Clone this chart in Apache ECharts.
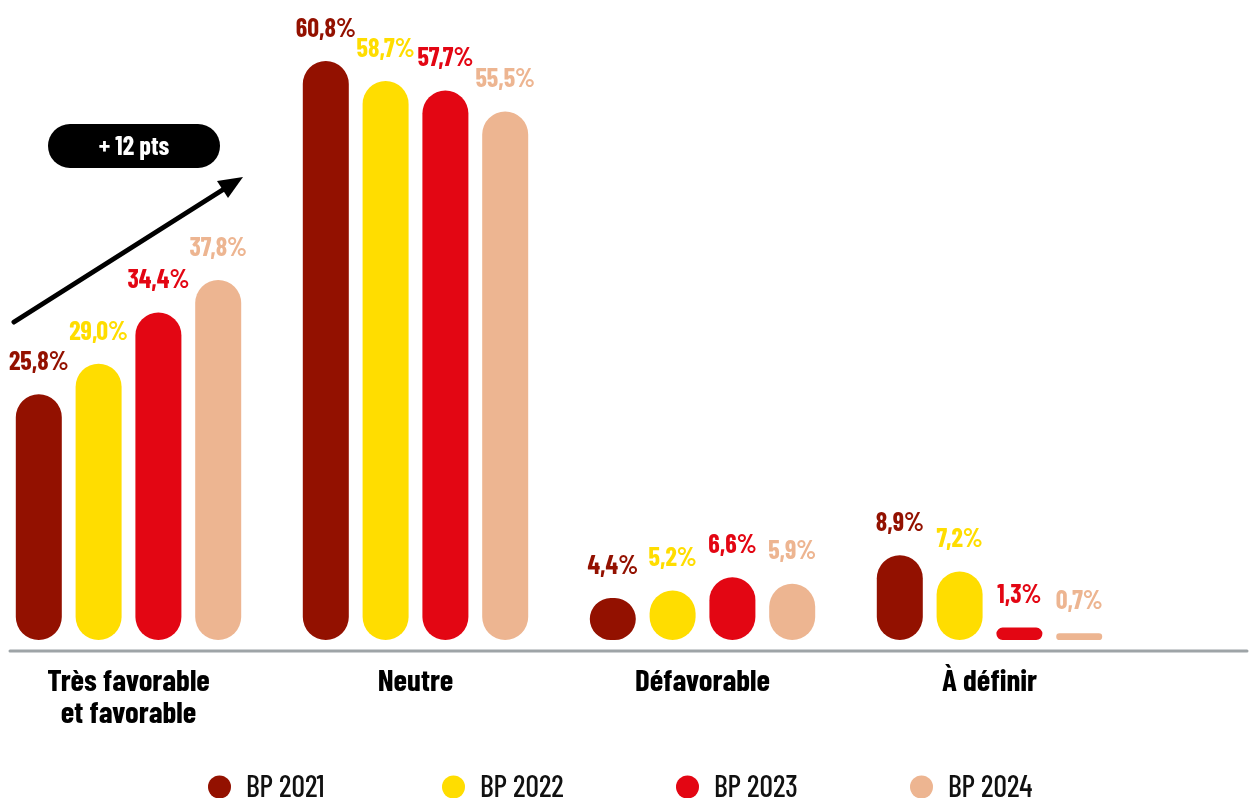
<!DOCTYPE html>
<html>
<head>
<meta charset="utf-8">
<script src="https://cdn.jsdelivr.net/npm/echarts@6/dist/echarts.min.js"></script>
<style>
  html, body { margin: 0; padding: 0; background: #fff; }
  #main { width: 1255px; height: 798px; }
</style>
</head>
<body>
<div id="main"></div>
<script>
// categories et valeurs (%)
var categories = ['Très favorable\net favorable', 'Neutre', 'Défavorable', 'À définir'];
var seriesNames = ['BP 2021', 'BP 2022', 'BP 2023', 'BP 2024'];
var bp2021 = [25.8, 60.8, 4.4, 8.9];
var bp2022 = [29.0, 58.7, 5.2, 7.2];
var bp2023 = [34.4, 57.7, 6.6, 1.3];
var bp2024 = [37.8, 55.5, 5.9, 0.7];
var colors = ['#931100', '#FFDD00', '#E30613', '#EDB591'];

var font = "'Barlow Condensed', 'Roboto Condensed', 'DejaVu Sans Condensed', sans-serif";

function makeSerie(name, data, color) {
    return {
        name: name,
        type: 'bar',
        data: data,
        barWidth: 46,
        barGap: '30%',
        itemStyle: { color: color, borderRadius: 23 },
        label: {
            show: true,
            position: 'top',
            distance: 20,
            color: color,
            fontFamily: font,
            fontWeight: 'bold',
            fontSize: 26,
            formatter: function (p) {
                return p.value.toFixed(1).replace('.', ',') + '%';
            }
        }
    };
}

var myChart = echarts.init(document.getElementById('main'));

var option = {
    animation: false,
    backgroundColor: '#fff',
    grid: { left: -15, right: 122, top: 21, bottom: 158, outerBoundsMode: 'none' },
    legend: {
        data: seriesNames,
        left: 203,
        top: 767,
        icon: 'circle',
        itemWidth: 23,
        itemHeight: 23,
        itemGap: 110,
        textStyle: {
            fontFamily: font, fontSize: 30, fontWeight: 500, color: '#111',
            lineHeight: 30, width: 86, padding: [0, 0, 0, 10]
        }
    },
    xAxis: {
        type: 'category',
        data: categories,
        axisLine: { show: false },
        axisTick: { show: false },
        axisLabel: {
            margin: 25,
            fontFamily: font,
            fontWeight: 'bold',
            fontSize: 31,
            lineHeight: 32,
            color: '#000'
        }
    },
    yAxis: {
        type: 'value',
        min: 0,
        max: 65,
        show: false,
        splitLine: { show: false }
    },
    series: [
        makeSerie(seriesNames[0], bp2021, colors[0]),
        makeSerie(seriesNames[1], bp2022, colors[1]),
        makeSerie(seriesNames[2], bp2023, colors[2]),
        makeSerie(seriesNames[3], bp2024, colors[3])
    ],
    graphic: [
        // ligne de base
        {
            type: 'line', shape: { x1: 10, y1: 651, x2: 1247, y2: 651 },
            style: { stroke: '#9ea4a7', lineWidth: 3, lineCap: 'round' }, z: 1
        },
        // flèche
        {
            type: 'line', shape: { x1: 14, y1: 322, x2: 224, y2: 189 },
            style: { stroke: '#000', lineWidth: 5, lineCap: 'round' }
        },
        {
            type: 'polygon',
            shape: { points: [[243, 177], [228, 198], [217, 181]] },
            style: { fill: '#000' }
        },
        // pastille
        {
            type: 'rect', shape: { x: 48, y: 124, width: 172, height: 44, r: 22 },
            style: { fill: '#000' }
        },
        {
            type: 'text', x: 134, y: 146,
            style: {
                text: '+ 12 pts', fill: '#fff', fontFamily: font, fontWeight: 'bold',
                fontSize: 26, align: 'center', verticalAlign: 'middle'
            }
        }
    ]
};

myChart.setOption(option);
</script>
</body>
</html>
